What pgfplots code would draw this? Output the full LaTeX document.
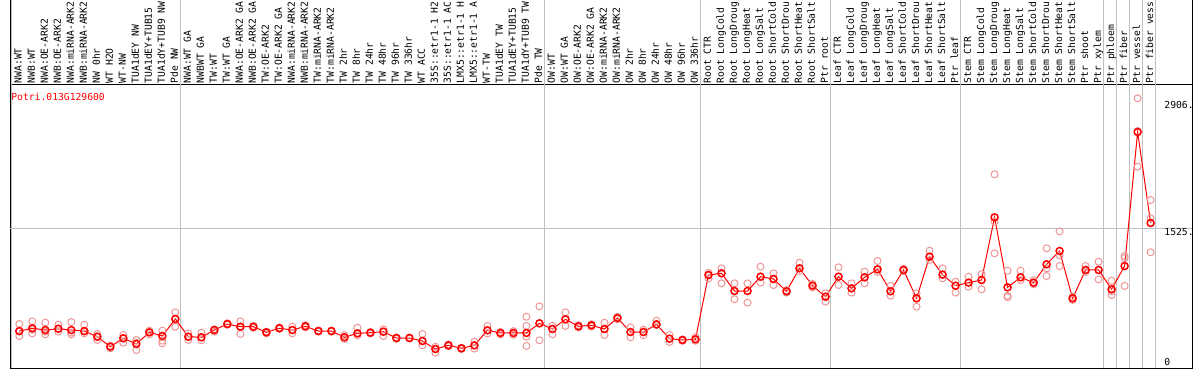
\documentclass[border=0pt]{standalone}
\usepackage{pgfplots}
\pgfplotsset{compat=1.18}
\usepackage{fontspec}
\newfontfamily\mono{DejaVu Sans Mono}
\definecolor{gridc}{RGB}{192,192,192}
\definecolor{repc}{RGB}{238,150,150}
\newcommand{\lfont}{\mono\fontsize{9.7}{10}\selectfont}
\begin{document}
\begin{tikzpicture}[x=1pt,y=1pt]
\path[use as bounding box] (-10,-1.7) rectangle (1184,368.3);
\begin{axis}[at={(0,0)}, anchor=south west, scale only axis,
  width=1182pt, height=283.3pt,
  xmin=-0.715, xmax=90.185, ymin=0, ymax=3086,
  axis line style={black, line width=1pt},
  ytick=\empty,
  xtick={0,...,87},
  xticklabels={NWA:WT,NWB:WT,NWA:OE-ARK2,NWB:OE-ARK2,NWA:miRNA-ARK2,NWB:miRNA-ARK2,NW 0hr,WT H2O,WT-NW,TUA1dEY NW,TUA1dEY+TUB15,TUA1dY+TUB9 NW,Pde NW,
  NWA:WT GA,NWBWT GA,TW:WT,TW:WT GA,NWA:OE-ARK2 GA,NWB:OE-ARK2 GA,TW:OE-ARK2,TW:OE-ARK2 GA,NWA:miRNA-ARK2,NWB:miRNA-ARK2,TW:miRNA-ARK2,TW:miRNA-ARK2,TW 2hr,TW 8hr,TW 24hr,TW 48hr,TW 96hr,TW 336hr,WT ACC,35S::etr1-1 H2,35S::etr1-1 AC,LMX5::etr1-1 H,LMX5::etr1-1 A,WT-TW,TUA1dEY TW,TUA1dEY+TUB15,TUA1dY+TUB9 TW,Pde TW,
  OW:WT,OW:WT GA,OW:OE-ARK2,OW:OE-ARK2 GA,OW:miRNA-ARK2,OW:miRNA-ARK2,OW 2hr,OW 8hr,OW 24hr,OW 48hr,OW 96hr,OW 336hr,
  Root CTR,Root LongCold,Root LongDroug,Root LongHeat,Root LongSalt,Root ShortCold,Root ShortDrou,Root ShortHeat,Root ShortSalt,Ptr root,
  Leaf CTR,Leaf LongCold,Leaf LongDroug,Leaf LongHeat,Leaf LongSalt,Leaf ShortCold,Leaf ShortDrou,Leaf ShortHeat,Leaf ShortSalt,Ptr leaf,
  Stem CTR,Stem LongCold,Stem LongDroug,Stem LongHeat,Stem LongSalt,Stem ShortCold,Stem ShortDrou,Stem ShortHeat,Stem ShortSalt,Ptr shoot,
  Ptr xylem,Ptr phloem,Ptr fiber,Ptr vessel,Ptr fiber vess},
  xticklabel pos=upper,
  major tick length=0pt,
  xticklabel style={rotate=90, anchor=west, inner xsep=1.5pt, inner ysep=0pt, font=\lfont, text height=7.3pt, text depth=2.4pt},
  clip=false]
\pgfplotsinvokeforeach{-0.62,12.38,40.38,52.38,62.38,72.38,83.38,84.38,85.38,86.38,87.38}{
  \draw[gridc, line width=1pt] (axis cs:#1,0) -- (axis cs:#1,4011.8);
}
\draw[gridc, line width=1pt] (axis cs:-0.715,1525) -- (axis cs:90.185,1525);
\draw[black, line width=1pt] (rel axis cs:0,1) -- (rel axis cs:0,1.3);
\draw[black, line width=1pt] (rel axis cs:1,1) -- (rel axis cs:1,1.3);
\addplot[only marks, mark=o, mark size=3.5pt, repc, line width=1pt] table {
x y
0 482
0 352
0 400
1 512
1 381
1 420
2 497
2 370
2 400
3 475
3 399
3 431
4 504
4 370
4 390
5 475
5 381
5 400
6 374
6 308
6 350
7 246
7 218
7 240
8 363
8 279
8 330
9 308
9 199
9 280
10 410
10 370
10 392
11 410
11 301
11 272
12 610
12 453
12 537
13 381
13 308
13 344
14 388
14 305
14 338
15 425
15 399
15 417
16 490
16 475
16 482
17 512
17 374
17 453
18 461
18 440
18 453
19 400
19 381
19 392
20 445
20 430
20 436
21 453
21 381
21 417
22 470
22 445
22 457
23 410
23 400
23 406
24 410
24 400
24 406
25 360
25 320
25 338
26 442
26 360
26 381
27 395
27 380
27 388
28 425
28 352
28 399
29 335
29 320
29 330
30 335
30 325
30 330
31 374
31 250
31 297
32 235
32 170
32 210
33 260
33 240
33 250
34 225
34 210
34 218
35 290
35 215
35 250
36 461
36 380
36 414
37 395
37 370
37 385
38 405
38 365
38 385
39 562
39 461
39 344
39 243
40 675
40 305
40 490
41 464
41 370
41 428
42 610
42 461
42 534
43 470
43 445
43 457
44 480
44 455
44 468
45 497
45 363
45 428
46 560
46 535
46 548
47 446
47 338
47 395
48 420
48 360
48 395
49 519
49 470
49 479
50 363
50 287
50 323
51 315
51 300
51 308
52 340
52 300
52 316
53 1041
53 980
53 1016
54 1089
54 926
54 1035
55 926
55 752
55 842
56 926
56 715
56 842
57 1107
57 933
57 998
58 1035
58 907
58 973
59 850
59 825
59 839
60 1150
60 1060
60 1089
61 920
61 880
61 900
62 817
62 726
62 780
63 1100
63 907
63 998
64 926
64 824
64 871
65 1052
65 926
65 991
66 1169
66 1050
66 1078
67 897
67 791
67 839
68 1085
68 1060
68 1071
69 817
69 671
69 762
70 1281
70 1180
70 1216
71 1089
71 980
71 1020
72 943
72 824
72 900
73 998
73 889
73 933
74 1027
74 861
74 962
75 2113
75 1597
75 1253
76 1063
76 790
76 775
77 1063
77 960
77 991
78 960
78 915
78 933
79 1307
79 1005
79 1090
80 1492
80 1114
80 1230
81 780
81 745
81 762
82 1114
82 1050
82 1071
83 1161
83 969
83 1071
84 954
84 798
84 840
85 1223
85 1200
85 897
86 2941
86 2196
86 2585
87 1833
87 1634
87 1264
};
\addplot[red, line width=1pt, mark=o, mark size=3.5pt, mark options={line width=1.5pt}] table {
x y
0 406
1 436
2 417
3 431
4 417
5 406
6 344
7 235
8 327
9 265
10 392
11 352
12 537
13 344
14 338
15 417
16 482
17 453
18 453
19 392
20 436
21 417
22 457
23 406
24 406
25 338
26 381
27 388
28 399
29 330
30 330
31 297
32 210
33 250
34 218
35 250
36 414
37 385
38 385
39 385
40 490
41 428
42 534
43 457
44 468
45 428
46 548
47 395
48 395
49 479
50 323
51 308
52 316
53 1016
54 1035
55 842
56 842
57 998
58 973
59 839
60 1089
61 900
62 780
63 998
64 871
65 991
66 1078
67 839
68 1071
69 762
70 1216
71 1020
72 900
73 933
74 962
75 1645
76 882
77 991
78 933
79 1133
80 1278
81 762
82 1071
83 1071
84 861
85 1114
86 2574
87 1583
};
\node[anchor=west, inner sep=0pt, text=red, font=\lfont] at (rel axis cs:0.001,0.9587) {Potri.013G129600};
\node[anchor=north west, inner sep=0pt, font=\lfont] at (axis cs:88.05,2906) {2906.};
\node[anchor=north west, inner sep=0pt, font=\lfont] at (axis cs:88.05,1525) {1525.};
\node[anchor=south west, inner sep=0pt, font=\lfont, yshift=2.5pt] at (axis cs:88.05,0) {0};
\end{axis}
\end{tikzpicture}
\end{document}
